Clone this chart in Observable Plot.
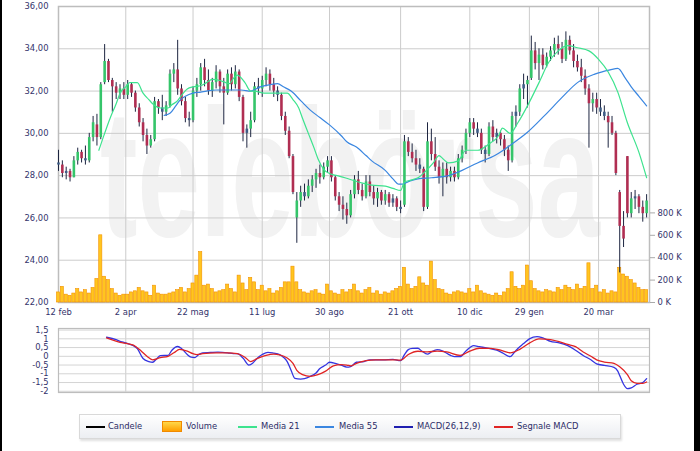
<!DOCTYPE html>
<html lang="it">
<head>
<meta charset="utf-8">
<script src="https://cdn.jsdelivr.net/npm/d3@7"></script>
<script src="https://cdn.jsdelivr.net/npm/@observablehq/plot@0.6"></script>
<style>
  html, body { margin:0; padding:0; background:#fff; }
  body { width:700px; height:451px; overflow:hidden; position:relative; font-family:"DejaVu Sans", Verdana, sans-serif; }
  .layer { position:absolute; left:0; top:0; }
  #macd { position:absolute; left:0; top:320px; }
  #wm { position:absolute; left:100px; top:82px; font:bold 182px "Liberation Sans", Arial, sans-serif; color:#f2f2f2; transform:scaleX(0.618); transform-origin:0 0; white-space:nowrap; line-height:182px; }
  #legend { position:absolute; left:79px; top:414px; width:540px; height:23px; border:1px solid #d9d9d9; background:linear-gradient(#ffffff,#eceef2); box-shadow:1px 2px 2px rgba(0,0,0,0.12); font-size:8.4px; color:#2b2b66; }
  .it { position:absolute; top:0; height:23px; line-height:23px; white-space:nowrap; }
  .ln { position:absolute; top:11px; height:2px; }
  .sw { position:absolute; top:6px; width:20px; height:11px; background:linear-gradient(#ffd84a,#ff9f00); border:1px solid #f08a00; box-sizing:border-box; }
  .edgeL { position:absolute; left:0; top:0; width:2px; height:451px; background:#000; }
  .edgeR { position:absolute; right:0; top:0; width:6px; height:451px; background:#000; }
</style>
</head>
<body>
<div id="wm">telebörsa</div>
<div id="g1" class="layer"></div>
<div id="g2" class="layer"></div>
<div id="g3" class="layer"></div>
<div id="macd"></div>
<div id="legend">
  <div class="ln" style="left:6px;width:19px;background:#000"></div><div class="it" style="left:28px">Candele</div>
  <div class="sw" style="left:82px"></div><div class="it" style="left:106px">Volume</div>
  <div class="ln" style="left:158px;width:19px;background:#3de38e"></div><div class="it" style="left:181px">Media 21</div>
  <div class="ln" style="left:235px;width:19px;background:#3a86e0"></div><div class="it" style="left:259px">Media 55</div>
  <div class="ln" style="left:314px;width:19px;background:#1f1fb0"></div><div class="it" style="left:337px">MACD(26,12,9)</div>
  <div class="ln" style="left:414px;width:19px;background:#e02424"></div><div class="it" style="left:437px">Segnale MACD</div>
</div>
<div class="edgeL"></div><div class="edgeR"></div>
<script>
// ---- axis ticks (trading-day index) ----
const tickIdx = [0, 35, 70, 106, 141, 178, 214, 245, 281];
const tickLabels = ["12 feb", "2 apr", "22 mag", "11 lug", "30 ago", "21 ott", "10 dic", "29 gen", "20 mar"];
const priceTicks = [22, 24, 26, 28, 30, 32, 34, 36];
const volTicks = [0, 200000, 400000, 600000, 800000];
const macdTicks = [-2, -1.5, -1, -0.5, 0, 0.5, 1, 1.5];

// ---- candles (one every 2 trading days) ----
const opens = [28.6,28.5,28.1,28.2,27.9,28.7,29.1,28.8,28.7,29.8, 30.4,29.8,32.4,33.4,32.5,32.2,31.9,32.1,31.8,32.3, 31.9,31.2,30.5,29.9,29.4,29.7,31.5,31.2,31.0,31.3, 32.8,33.0,32.1,31.5,30.7,30.6,32.0,32.3,33.1,32.5, 32.0,32.4,32.9,32.2,31.9,32.8,32.3,32.9,31.7,30.0, 30.2,30.6,32.2,32.1,32.5,32.8,32.3,32.0,31.8,30.8, 30.1,28.9,26.0,26.8,27.2,27.0,27.5,27.8,28.1,27.9, 28.4,28.7,27.9,27.0,26.6,26.4,26.1,27.1,27.8,27.3, 27.0,27.7,27.2,26.9,27.2,26.8,27.1,26.7,26.9,26.5, 26.6,29.6,29.1,28.8,28.5,28.3,26.5,29.6,29.0,28.4, 27.9,28.3,27.9,28.2,27.9,28.8,29.2,30.0,30.5,30.2, 30.0,29.2,29.0,30.3,29.8,30.0,29.7,29.2,28.7,30.8, 31.0,32.1,32.3,32.6,33.9,33.3,33.7,33.2,33.6,33.9, 34.2,34.0,33.5,34.4,33.9,33.4,33.1,32.7,32.1,31.4, 31.6,31.2,31.0,30.8,30.5,30.0,27.2,25.6,28.9,26.2, 26.9,27.0,26.5,26.2];
const highs = [29.2,28.7,28.4,28.3,28.9,29.3,29.2,29.4,30.0,30.8, 30.9,32.4,34.2,33.5,32.6,32.4,32.3,32.4,32.5,32.4, 32.0,31.4,30.7,30.2,29.9,31.7,31.6,31.8,31.5,33.0, 33.3,34.4,32.3,31.7,31.0,32.2,32.6,33.3,33.5,33.0, 32.6,33.2,33.0,32.6,33.0,33.1,33.2,33.0,31.8,30.4, 31.0,32.4,32.6,32.7,33.1,33.0,32.6,32.2,31.9,31.0, 30.3,29.0,27.2,27.5,27.6,27.8,28.0,28.3,28.5,28.6, 28.9,28.9,28.0,27.2,27.0,26.7,27.3,28.0,28.2,27.6, 28.0,28.0,27.5,27.4,27.3,27.3,27.2,27.1,27.0,26.8, 29.9,29.8,29.5,29.2,28.8,28.4,30.5,30.2,29.8,28.7, 28.6,28.6,28.4,28.4,29.0,29.4,30.2,30.7,30.7,30.5, 30.2,29.4,30.5,30.6,30.2,30.1,29.9,29.4,31.0,31.3, 32.3,32.8,32.7,34.6,34.3,34.0,34.0,33.8,34.1,34.5, 34.6,34.3,34.8,34.6,34.2,33.7,33.5,33.0,32.3,31.9, 31.9,31.6,31.3,31.0,30.8,30.1,27.3,26.3,28.9,27.2, 27.3,27.1,26.8,27.1];
const lows = [28.2,27.9,27.8,27.7,27.9,28.5,28.6,28.5,28.6,29.6, 29.4,29.7,32.3,32.4,31.0,31.6,31.6,31.6,31.6,31.7, 31.0,30.3,29.6,29.0,29.3,29.6,30.9,30.6,30.8,31.2, 32.4,31.8,31.3,30.5,30.3,30.5,31.7,32.0,32.2,31.8, 31.7,32.1,31.9,30.4,31.8,32.0,32.1,31.5,29.6,29.3, 29.8,30.5,31.8,31.7,32.2,32.0,31.7,31.5,30.6,29.9, 28.8,27.1,24.8,26.5,26.8,26.9,27.2,27.4,27.6,27.8, 28.1,27.7,26.8,26.3,25.9,25.7,26.0,26.9,27.1,26.8, 26.9,27.0,26.6,26.5,26.6,26.6,26.5,26.5,26.3,26.2, 26.5,28.9,28.6,28.2,28.1,26.3,26.4,28.7,28.2,27.6, 27.0,27.6,27.7,27.7,27.8,28.6,29.0,29.8,29.9,29.8, 29.0,28.6,28.9,29.6,29.5,29.4,28.9,28.2,28.6,30.3, 30.8,31.6,31.2,32.5,33.0,32.5,33.0,33.1,33.4,33.6, 33.7,33.3,33.4,33.7,33.1,32.9,32.4,31.8,29.3,31.0, 30.9,30.8,30.6,29.3,29.9,28.0,23.4,24.6,26.0,26.0, 26.4,26.2,25.8,26.0];
const closes = [28.5,28.1,28.2,27.9,28.7,29.1,28.8,28.7,29.8,30.5, 29.8,32.3,33.4,32.5,32.2,31.9,32.1,31.8,32.3,31.9, 31.2,30.5,29.9,29.4,29.7,31.5,31.2,31.0,31.3,32.8, 33.0,32.1,31.5,30.7,30.6,32.0,32.3,33.1,32.5,32.0, 32.4,32.9,32.2,31.9,32.8,32.3,32.9,31.7,30.0,30.2, 30.6,32.2,32.1,32.5,32.8,32.3,32.0,31.8,30.8,30.1, 28.9,27.2,26.8,27.2,27.0,27.5,27.8,28.1,27.9,28.4, 28.7,27.9,27.0,26.6,26.4,26.1,27.1,27.8,27.3,27.0, 27.7,27.2,26.9,27.2,26.8,27.1,26.7,26.9,26.5,26.4, 29.6,29.1,28.8,28.5,28.3,26.5,29.6,29.0,28.4,27.9, 28.3,27.9,28.2,27.9,28.8,29.2,30.0,30.5,30.2,30.0, 29.2,29.0,30.3,29.8,30.0,29.7,29.2,28.7,30.8,31.0, 32.1,32.3,32.5,33.9,33.3,33.7,33.2,33.6,33.9,34.2, 34.0,33.5,34.4,33.9,33.4,33.1,32.7,32.1,31.4,31.6, 31.2,31.0,30.8,30.5,30.0,28.1,25.6,25.0,26.2,26.9, 27.0,26.5,26.2,26.8];
// volume in thousands
const volumesK = [90,140,70,60,80,120,90,110,80,130, 210,600,230,200,120,80,60,70,70,90, 100,130,100,90,60,150,80,70,70,80, 90,110,130,90,120,170,240,450,150,160, 120,90,100,110,160,120,90,240,170,110, 220,180,110,150,100,120,80,100,130,180, 180,320,180,110,90,80,100,110,80,70, 160,100,80,70,110,90,110,160,100,80, 110,130,80,100,70,90,80,100,120,140, 310,160,120,140,225,170,150,365,200,120, 110,80,70,90,100,90,80,120,90,150, 100,80,70,60,80,60,90,120,270,140, 120,150,330,190,120,100,90,110,100,90, 130,110,150,130,110,160,120,140,350,120, 150,90,110,80,100,90,310,250,230,200, 170,130,110,110];

// ---- moving averages (trading-day index, value) ----
const ma21Day = [21,24,27,30,32,35,37,41,44,47,49,53,57,59,62,64,67,70,74,77,80,84,87,89,91,93,97,100,102,107,114,119,122,125,127,130,133,135,138,141,145,149,156,163,170,174,178,180,184,187,192,195,198,200,203,208,212,218,224,229,231,235,239,244,250,255,260,265,270,276,281,286,291,296,302,306];
const ma21Val = [29.2,30.0,30.75,31.4,31.9,32.2,32.4,32.4,31.9,31.6,31.4,31.2,31.2,31.35,31.55,31.8,32.1,32.2,32.25,32.4,32.55,32.5,32.4,32.35,32.6,32.75,32.4,32.0,32.0,31.9,31.9,31.9,31.6,31.2,30.7,30.0,29.3,28.8,28.3,28.1,28.0,27.9,27.7,27.55,27.5,27.4,27.3,27.7,27.8,27.9,28.3,28.6,28.95,28.8,28.6,28.7,29.2,29.2,29.5,29.9,30.25,30.0,30.5,31.3,32.4,33.35,33.9,34.15,34.05,33.9,33.5,32.9,31.95,30.5,29.1,27.9];
const ma55Day = [55,58,61,63,66,70,74,77,82,88,95,100,105,110,114,117,121,126,131,136,141,147,150,155,160,163,170,174,177,179,183,187,194,203,206,210,218,227,236,244,253,262,270,279,287,291,295,298,302,306];
const ma55Val = [30.85,30.95,31.3,31.55,31.75,31.9,31.95,32.0,32.05,32.05,32.05,32.0,32.2,32.3,32.35,32.2,32.0,31.55,31.1,30.75,30.4,29.9,29.6,29.35,28.95,28.7,28.25,27.85,27.6,27.6,27.75,27.85,27.9,28.0,28.1,28.25,28.6,28.95,29.5,30.05,30.85,31.7,32.4,32.8,33.0,33.07,32.6,32.2,31.75,31.3];

// ---- MACD panel ----
const macdDay = [25,30,33,36,39,41,44,47,49,51,53,57,59,62,64,67,69,71,73,75,79,83,88,91,93,96,99,101,103,106,109,112,115,117,119,121,123,126,128,131,134,136,139,141,144,147,150,152,155,159,162,169,174,178,180,182,184,187,189,192,194,197,200,204,206,209,212,216,219,224,228,231,235,237,239,242,245,249,252,256,260,265,269,273,277,280,284,289,291,292,294,296,298,301,304,306];
const macdVal = [1.09,0.95,0.82,0.73,0.6,0.44,-0.13,-0.3,-0.34,-0.15,0.04,0.05,0.35,0.56,0.45,0.1,-0.05,-0.07,0.1,0.2,0.22,0.24,0.2,0.15,0.15,-0.1,-0.5,-0.4,-0.15,0.1,0.23,0.18,0.1,-0.05,-0.3,-0.8,-1.26,-1.3,-1.28,-1.15,-0.95,-0.7,-0.5,-0.34,-0.4,-0.5,-0.62,-0.59,-0.34,-0.3,-0.2,-0.2,-0.18,-0.25,0.1,0.38,0.45,0.46,0.3,0.12,0.25,0.38,0.3,0.05,-0.02,-0.02,0.3,0.61,0.55,0.45,0.35,0.2,-0.02,0.2,0.45,0.73,1.0,1.13,1.05,0.85,0.78,0.61,0.35,0.05,-0.2,-0.43,-0.52,-0.63,-0.85,-1.1,-1.6,-1.85,-1.8,-1.6,-1.5,-1.28];
const sigDay = [25,32,36,39,43,46,49,53,57,60,63,67,70,72,75,82,88,93,97,100,103,108,112,115,119,122,124,127,131,135,139,143,147,150,152,155,160,165,173,178,182,187,192,197,202,209,214,219,225,230,235,240,245,250,256,265,269,273,277,280,284,289,292,296,298,301,304,306];
const sigVal = [1.05,0.8,0.72,0.64,0.3,0.0,-0.2,-0.08,0.0,0.2,0.4,0.3,0.15,0.1,0.15,0.2,0.2,0.15,-0.05,-0.3,-0.15,0.05,0.12,0.08,-0.1,-0.4,-0.8,-1.05,-1.15,-1.05,-0.85,-0.55,-0.48,-0.5,-0.55,-0.4,-0.25,-0.2,-0.2,-0.22,0.1,0.29,0.25,0.3,0.25,0.05,0.3,0.46,0.45,0.35,0.2,0.4,0.75,1.0,0.95,0.68,0.55,0.25,0.0,-0.2,-0.33,-0.4,-0.6,-1.05,-1.4,-1.55,-1.55,-1.47];

// ---- build ----
const candles = opens.map((o, k) => ({day: 2 * k, o, h: highs[k], l: lows[k], c: closes[k], v: volumesK[k] * 1000}));
const candleColor = d => (d.c - d.o > 0.2 ? "#35c56a" : d.o - d.c > 0.2 ? "#b02e52" : "#3f5d86");

const W = 700, ML = 58, MR = 51;
const xDomain = [0, 307.5];
const baseStyle = {fontFamily: '"DejaVu Sans", Verdana, sans-serif', fontSize: "8.4px", background: "transparent", color: "#33336b", overflow: "visible"};
const frameOpts = {width: W, height: 320, marginLeft: ML, marginRight: MR, marginTop: 6, marginBottom: 18};

const gridLayer = Plot.plot({
  ...frameOpts,
  x: {domain: xDomain},
  y: {domain: [22, 36]},
  style: baseStyle,
  marks: [
    Plot.gridX(tickIdx, {stroke: "#cccccc", strokeOpacity: 1}),
    Plot.gridY(priceTicks, {stroke: "#cccccc", strokeOpacity: 1}),
    Plot.frame({stroke: "#bdbdbd", strokeWidth: 1.5}),
    Plot.axisX(tickIdx, {tickSize: 0, tickPadding: 7, label: null, tickFormat: d => tickLabels[tickIdx.indexOf(d)]}),
    Plot.axisY(priceTicks, {tickSize: 0, tickPadding: 10, label: null, tickFormat: d => d.toFixed(2).replace(".", ",")})
  ]
});

const volLayer = Plot.plot({
  ...frameOpts,
  x: {domain: xDomain, axis: null},
  y: {domain: [0, 2643000]},
  style: baseStyle,
  marks: [
    Plot.rectY(candles, {x1: d => d.day - 1, x2: d => d.day + 1, y1: 0, y2: "v", insetLeft: 0.35, insetRight: 0.35, fill: "#ffc51f", stroke: "#f39200", strokeWidth: 0.6}),
    Plot.axisY(volTicks, {anchor: "right", tickSize: 5, tickPadding: 3, label: null, stroke: "#aaaaaa", tickFormat: d => (d / 1000) + " K"})
  ]
});

const priceLayer = Plot.plot({
  ...frameOpts,
  x: {domain: xDomain, axis: null},
  y: {domain: [22, 36], axis: null},
  color: {type: "identity"},
  style: baseStyle,
  marks: [
    Plot.ruleX(candles, {x: "day", y1: "l", y2: "h", stroke: "#1d2540", strokeWidth: 1}),
    Plot.ruleX(candles, {x: "day", y1: "o", y2: "c", stroke: candleColor, strokeWidth: 2.6}),
    Plot.line(d3.zip(ma55Day, ma55Val), {stroke: "#3a86e0", strokeWidth: 1.2, curve: "monotone-x"}),
    Plot.line(d3.zip(ma21Day, ma21Val), {stroke: "#3de38e", strokeWidth: 1.2, curve: "monotone-x"})
  ]
});

const macdPlot = Plot.plot({
  width: W, height: 78, marginLeft: ML, marginRight: MR, marginTop: 8, marginBottom: 6,
  x: {domain: xDomain, axis: null},
  y: {domain: [-2.07, 1.59]},
  style: baseStyle,
  marks: [
    Plot.gridX(tickIdx, {stroke: "#cccccc", strokeOpacity: 1}),
    Plot.gridY(macdTicks, {stroke: "#d4d4d4", strokeOpacity: 1}),
    Plot.frame({stroke: "#bdbdbd", strokeWidth: 1.2}),
    Plot.axisY(macdTicks, {tickSize: 0, tickPadding: 10, label: null, tickFormat: d => String(d).replace(".", ",")}),
    Plot.line(d3.zip(macdDay, macdVal), {stroke: "#3535e0", strokeWidth: 1.3, curve: "monotone-x"}),
    Plot.line(d3.zip(sigDay, sigVal), {stroke: "#e02424", strokeWidth: 1.3, curve: "monotone-x"})
  ]
});

document.getElementById("g1").append(gridLayer);
document.getElementById("g2").append(volLayer);
document.getElementById("g3").append(priceLayer);
document.getElementById("macd").append(macdPlot);
</script>
</body>
</html>
